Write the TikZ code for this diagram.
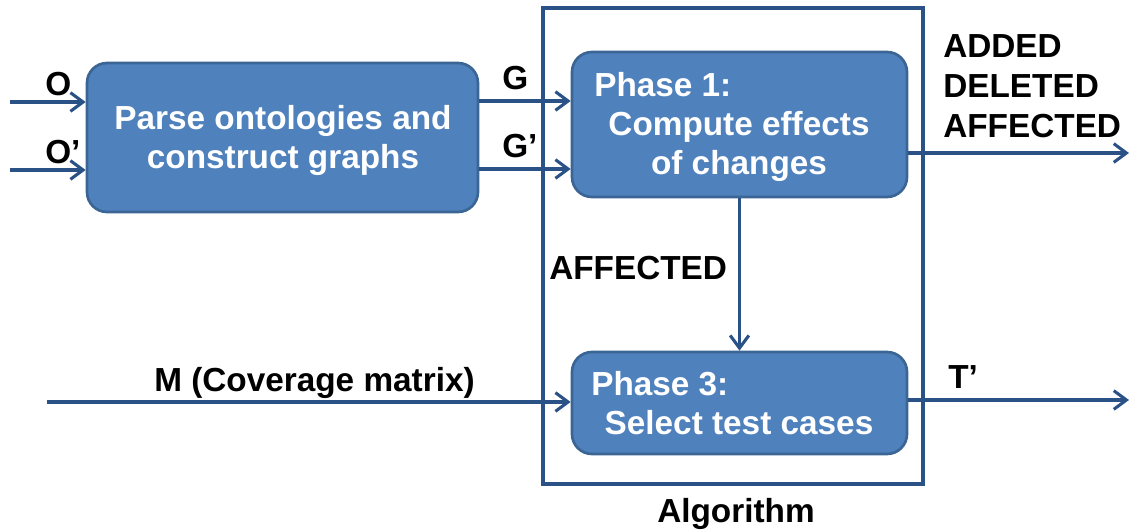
\documentclass[tikz,border=0pt]{standalone}
\usepackage{fontspec}
\setmainfont{Liberation Sans}
\usetikzlibrary{arrows.meta}
\definecolor{boxfill}{HTML}{4F81BD}
\definecolor{boxline}{HTML}{3A6594}
\definecolor{flow}{HTML}{2A5287}
\begin{document}
\begin{tikzpicture}[x=0.75pt,y=-0.75pt,
  every node/.style={font=\fontsize{25pt}{29pt}\selectfont\bfseries, inner sep=0pt},
  procbox/.style={draw=boxline, line width=2pt, fill=boxfill, rounded corners=15pt},
  intext/.style={text=white, anchor=base},
  inhead/.style={text=white, anchor=base west},
  lbl/.style={text=black, anchor=base west},
  arr/.style={draw=flow, line width=2.3pt, -{Straight Barb[length=9.5pt,width=14pt,line width=2.3pt]}},
  frame/.style={draw=flow, line width=2.3pt}]
\useasboundingbox (0,0) rectangle (1130,530);

% algorithm frame
\node[frame, minimum width=285pt, minimum height=357pt] (alg) at (733,246) {};
\node[lbl] (algl) at (657,522) {Algorithm};

% process boxes
\node[procbox, minimum width=293.25pt, minimum height=111.75pt] (parse) at (282.5,137.5) {};
\node[procbox, minimum width=251.25pt, minimum height=108.75pt] (ph1) at (739.5,124.5) {};
\node[procbox, minimum width=251.25pt, minimum height=76.5pt] (ph3) at (739.5,403) {};

% box texts
\node[intext] (pt1) at (283,130) {Parse ontologies and};
\node[intext] (pt2) at (283,169) {construct graphs};
\node[inhead] (h1) at (594,97) {Phase 1:};
\node[intext] (c1) at (739,136) {Compute effects};
\node[intext] (c2) at (739,175) {of changes};
\node[inhead] (h3) at (591,395) {Phase 3:};
\node[intext] (s3) at (739,434) {Select test cases};

% free ends
\coordinate (oin) at (10,102);
\coordinate (opin) at (10,170);
\coordinate (min) at (47,402);
\coordinate (aout) at (1129,153);
\coordinate (tout) at (1129,400);

% connectors
\draw[arr] (oin) -- (parse.west |- oin);
\draw[arr] (opin) -- (parse.west |- opin);
\draw[arr] (parse.east |- 0,101) -- (ph1.west |- 0,101);
\draw[arr] (parse.east |- 0,169) -- (ph1.west |- 0,169);
\draw[arr] (ph1.east |- aout) -- (aout);
\draw[arr] (ph1.south) -- (ph3.north);
\draw[arr] (min) -- (ph3.west |- min);
\draw[arr] (ph3.east |- tout) -- (tout);

% labels
\node[lbl] (lo) at (45,96) {O};
\node[lbl] (lop) at (45,164) {O’};
\node[lbl] (lg) at (502,90) {G};
\node[lbl] (lgp) at (502,158) {G’};
\node[lbl] (ladd) at (943,58) {ADDED};
\node[lbl] (ldel) at (943,98) {DELETED};
\node[lbl] (laff) at (943,138) {AFFECTED};
\node[lbl] (lmid) at (549,280) {AFFECTED};
\node[lbl] (lm) at (154,392) {M (Coverage matrix)};
\node[lbl] (lt) at (948,388) {T’};
\end{tikzpicture}
\end{document}
